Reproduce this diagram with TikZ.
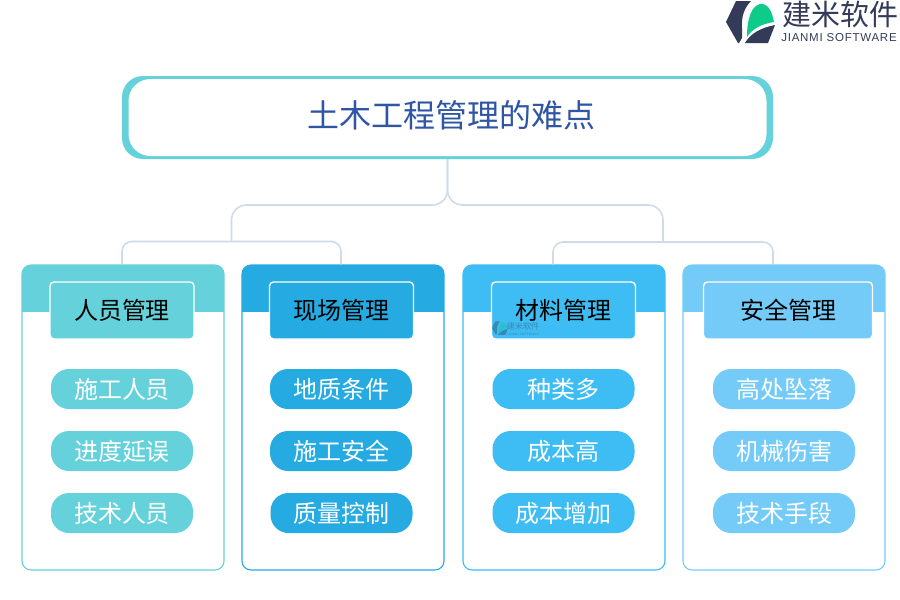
\documentclass[tikz,border=0pt]{standalone}
\usepackage{fontspec}
\setmainfont{Noto Sans CJK SC}
\newfontfamily\logolatin[LetterSpace=6.5]{Liberation Sans}
\usetikzlibrary{positioning,calc}
\definecolor{teala}{HTML}{65D1DB}
\definecolor{blueb}{HTML}{25ABE2}
\definecolor{bluec}{HTML}{3DBDF3}
\definecolor{blued}{HTML}{75CBF8}
\definecolor{titleink}{HTML}{2F55A4}
\definecolor{linkgray}{HTML}{CFDBE8}
\definecolor{logoink}{HTML}{333B58}
\definecolor{logoleaf}{HTML}{0FCB8A}
\tikzset{
  linkline/.style={line width=1.6pt,draw=linkgray,rounded corners=#1},
  cardbox/.style={draw=#1,line width=1.1pt,fill=white,rounded corners=9pt,minimum width=202pt,minimum height=305pt,inner sep=0pt,
    path picture={\fill[#1,sharp corners] (path picture bounding box.north west) rectangle ([yshift=-47pt]path picture bounding box.north east);}},
  tabbox/.style={draw=white,line width=1.4pt,fill=#1,rounded corners=4pt,minimum height=57pt,inner sep=0pt,font=\fontsize{24}{24}\selectfont},
  pillbox/.style={fill=#1,rounded corners=18pt,minimum width=142pt,minimum height=40pt,inner sep=0pt,text=white,font=\fontsize{24}{24}\selectfont},
  jianmimark/.pic={
    \fill[logoink] (0,22) -- (10,1) -- (25,1) .. controls (19,7) and (15,16) .. (16,28) -- (16,38) -- (13,43) -- (12,43) -- cycle;
    \fill[logoink] (19,43) .. controls (24,34) and (34,28) .. (49,25) -- (42,43) -- cycle;
    \fill[logoleaf] (21,37) .. controls (21,17) and (26,6) .. (34,4) .. controls (41,3) and (46,10) .. (48,22) .. controls (36,24) and (27,28) .. (21,37) -- cycle;
  }
}
\begin{document}
\begin{tikzpicture}[x=1pt,y=-1pt]
  \useasboundingbox (0,0) rectangle (900,600);
  % 连接线用的节点先占位
  \node[cardbox=teala] (renyuan) at (123,417.5) {};
  \node[cardbox=blueb] (xianchang) at (343,417.5) {};
  \node[cardbox=bluec] (cailiao) at (564,417.5) {};
  \node[cardbox=blued] (anquan) at (784,417.5) {};
  % 标题框
  \node[fill=teala,rounded corners=21pt,minimum width=651pt,minimum height=83pt,inner sep=0pt] (titleouter) at (447.5,117.5) {};
  \node[fill=white,rounded corners=22pt,minimum width=638pt,minimum height=77pt,inner sep=0pt] (titleinner) at (447.5,117.5) {};
  \node[text=titleink,font=\fontsize{32}{32}\selectfont,inner sep=0pt] (title) at (451.5,115.5) {土木工程管理的难点};
  % 连接线
  \coordinate (hubleft) at ($(renyuan.north)!0.5!(xianchang.north)+(-1.5,-23)$);
  \coordinate (hubright) at (663,242);
  \draw[linkline=15pt] (titleouter.south) |- (231.5,205) -- (hubleft);
  \draw[linkline=15pt] (titleouter.south) |- (663,205) -- (hubright);
  \draw[linkline=10pt] ([xshift=-1pt]renyuan.north) |- (hubleft) -| ([xshift=-2pt]xianchang.north);
  \draw[linkline=10pt] ([xshift=-11pt]cailiao.north) |- (hubright) -| ([xshift=-11pt]anquan.north);
  % 人员管理
  \node[tabbox=teala,minimum width=144pt] (renyuantab) at (122,310.5) {人员管理};
  \node[pillbox=teala] (renyuana) at (122,389) {施工人员};
  \node[pillbox=teala] (renyuanb) at (122,451) {进度延误};
  \node[pillbox=teala] (renyuanc) at (122,513) {技术人员};
  % 现场管理
  \node[tabbox=blueb,minimum width=144pt] (xianchangtab) at (341.5,310.5) {现场管理};
  \node[pillbox=blueb] (xianchanga) at (341,389) {地质条件};
  \node[pillbox=blueb] (xianchangb) at (341,451) {施工安全};
  \node[pillbox=blueb] (xianchangc) at (341.5,513) {质量控制};
  % 材料管理
  \node[tabbox=bluec,minimum width=144pt] (cailiaotab) at (563.5,310.5) {材料管理};
  \node[pillbox=bluec] (cailiaoa) at (563.5,389) {种类多};
  \node[pillbox=bluec] (cailiaob) at (563.5,451) {成本高};
  \node[pillbox=bluec] (cailiaoc) at (563.5,513) {成本增加};
  % 安全管理
  \node[tabbox=blued,minimum width=169pt] (anquantab) at (788,310.5) {安全管理};
  \node[pillbox=blued] (anquana) at (784,389) {高处坠落};
  \node[pillbox=blued] (anquanb) at (784,451) {机械伤害};
  \node[pillbox=blued] (anquanc) at (784,513) {技术手段};
  % 右上角标志
  \pic at (726,0) {jianmimark};
  \node[text=logoink,font=\fontsize{29}{29}\selectfont,inner sep=0pt] (logoname) at (840,14) {建米软件};
  \node[text=logoink,font=\logolatin\fontsize{11.5}{12}\selectfont,inner sep=0pt] (logoeng) at (839,38) {JIANMI SOFTWARE};
  % 水印
  \begin{scope}[opacity=0.4]
    \pic[scale=0.32] at (492,321) {jianmimark};
    \node[text=logoink,font=\fontsize{8.2}{9}\selectfont,inner sep=0pt] (markname) at (523,326) {建米软件};
    \node[text=logoink,font=\logolatin\fontsize{3.2}{4}\selectfont,inner sep=0pt] (markeng) at (523,334.5) {JIANMI SOFTWARE};
  \end{scope}
\end{tikzpicture}
\end{document}
